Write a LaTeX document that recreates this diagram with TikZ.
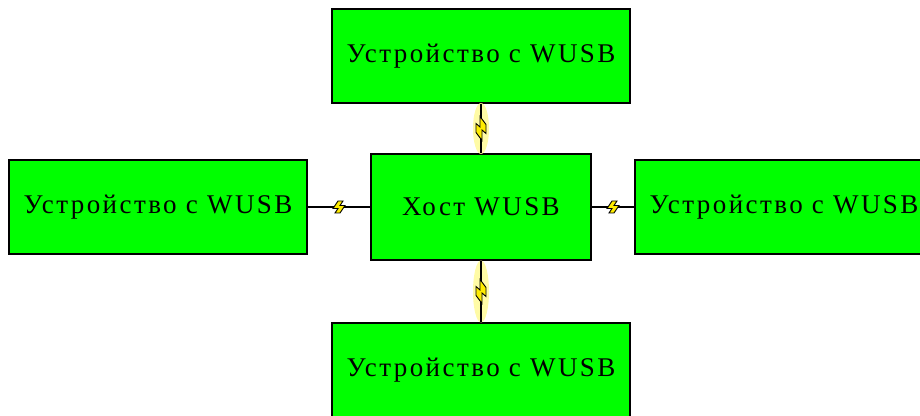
\documentclass[tikz,border=0pt]{standalone}
\usepackage{fontspec}
\newfontfamily\labelfont[LetterSpace=9]{Liberation Serif}
\usetikzlibrary{calc}

\definecolor{boxgreen}{RGB}{0,255,0}
\definecolor{boltyellow}{RGB}{255,236,0}
\definecolor{haloyellow}{RGB}{255,250,150}

\tikzset{
  unit/.style={draw=black, line width=1.3pt, fill=boxgreen, inner sep=0pt,
    font=\labelfont\fontsize{27}{30}\selectfont, text=black},
  device/.style={unit, minimum width=298pt, minimum height=94pt},
  host/.style={unit, minimum width=220pt, minimum height=106pt},
  wire/.style={draw=black, line width=1.2pt},
  boltshape/.style={fill=boltyellow, draw=black, line width=0.9pt, line join=miter},
  halo/.style={fill=haloyellow, opacity=0.85},
  % short lightning mark laid along the x axis of its scope
  pics/bolt/.style={code={
    \filldraw[boltshape]
      (-6,-1.5) -- (-1,6) -- (4,6) -- (1,1.5) -- (6,1.5) -- (1,-6) -- (-4,-6) -- (-1,-1.5) -- cycle;
  }},
  % longer mark for the vertical links
  pics/longbolt/.style={code={
    \filldraw[boltshape]
      (-12,-1) -- (-4,5) -- (5,5) -- (1.5,1) -- (12,1) -- (4,-5) -- (-5,-5) -- (-1.5,-1) -- cycle;
  }}
}

\begin{document}
\begin{tikzpicture}[x=1pt, y=1pt]
  \useasboundingbox (0,0) rectangle (920,415);
  \clip (0,0) rectangle (920,415);

  \node[device] (top)    at (481,359) {Устройство с WUSB};
  \node[device] (left)   at (158,208) {Устройство с WUSB};
  \node[host]   (hub)    at (481,208) {Хост WUSB};
  \node[device] (right)  at (784,208) {Устройство с WUSB};
  \node[device] (bottom) at (481,45)  {Устройство с WUSB};

  % wireless links between the host and each device
  \draw[wire] (left.east) -- (hub.west)
    pic[pos=0.5, sloped] {bolt};
  \draw[wire] (hub.east) -- (right.west)
    pic[pos=0.5, sloped] {bolt};

  \path (top.south) -- (hub.north) coordinate[pos=0.5] (tm);
  \path (hub.south) -- (bottom.north) coordinate[pos=0.5] (bm);
  \fill[halo] (tm) ellipse (8pt and 25.5pt);
  \fill[halo] (bm) ellipse (8pt and 31pt);
  \draw[wire] (top.south) -- (hub.north)
    pic[pos=0.5, sloped] {longbolt};
  \draw[wire] (hub.south) -- (bottom.north)
    pic[pos=0.5, sloped] {longbolt};
\end{tikzpicture}
\end{document}
